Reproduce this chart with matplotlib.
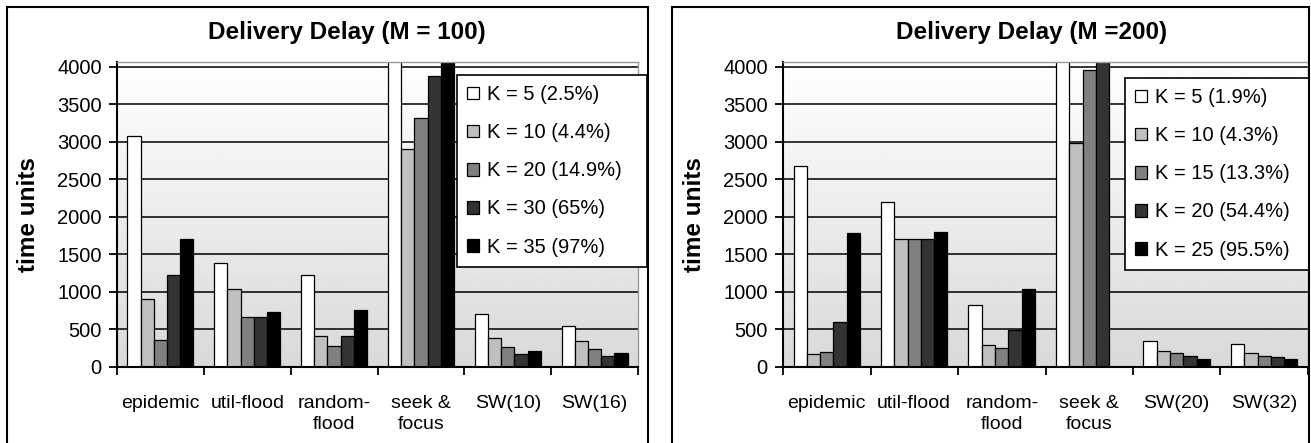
import numpy as np
import matplotlib.pyplot as plt
from matplotlib.patches import Rectangle

plt.rcParams['font.family'] = ['Liberation Sans', 'DejaVu Sans']

# categories on the x axis
cats_100 = ['epidemic', 'util-flood', 'random-\nflood', 'seek &\nfocus', 'SW(10)', 'SW(16)']
cats_200 = ['epidemic', 'util-flood', 'random-\nflood', 'seek &\nfocus', 'SW(20)', 'SW(32)']

# delivery delay (time units), one list per K, M = 100
k_labels_100 = ['K = 5 (2.5%)', 'K = 10 (4.4%)', 'K = 20 (14.9%)', 'K = 30 (65%)', 'K = 35 (97%)']
m100_k5 = [3080, 1390, 1230, 4800, 700, 540]
m100_k10 = [900, 1040, 410, 2900, 390, 340]
m100_k20 = [360, 670, 280, 3320, 260, 240]
m100_k30 = [1230, 670, 410, 3870, 170, 150]
m100_k35 = [1710, 730, 760, 4100, 210, 180]

# M = 200 (no K = 25 value for seek & focus)
k_labels_200 = ['K = 5 (1.9%)', 'K = 10 (4.3%)', 'K = 15 (13.3%)', 'K = 20 (54.4%)', 'K = 25 (95.5%)']
m200_k5 = [2680, 2200, 830, 4800, 350, 310]
m200_k10 = [170, 1700, 290, 2980, 210, 180]
m200_k15 = [200, 1700, 250, 3950, 180, 150]
m200_k20 = [600, 1700, 490, 4100, 150, 130]
m200_k25 = [1780, 1800, 1040, np.nan, 100, 100]

colors = ['#ffffff', '#c0c0c0', '#808080', '#333333', '#000000']
W, H = 1311, 443


def px(x0, y0, x1, y1):
    # pixel box -> figure fraction rect
    return [x0 / W, 1 - y1 / H, (x1 - x0) / W, (y1 - y0) / H]


def draw(ax, cats, series, labels, title, title_x, leg_box):
    n = len(cats)
    x = np.arange(n) + 0.5
    bw = 0.152
    # grey gradient behind the bars
    grad = np.linspace(0.85, 1.0, 256).reshape(-1, 1)
    ax.imshow(grad, extent=(0, 1, 0, 1), transform=ax.transAxes, aspect='auto',
              cmap='gray', vmin=0, vmax=1, origin='lower', zorder=0)
    bars = []
    for i, vals in enumerate(series):
        b = ax.bar(x + (i - 2) * bw, vals, bw, color=colors[i], edgecolor='black',
                   linewidth=0.9, zorder=2, label=labels[i])
        bars.append(b)
    ax.set_xlim(0, n)
    ax.set_ylim(0, 4060)
    ax.set_yticks(range(0, 4001, 500))
    ax.yaxis.grid(True, color='#111111', linewidth=1.2, zorder=1)
    ax.set_axisbelow(True)
    ax.set_xticks(x)
    ax.set_xticklabels(cats, fontsize=14, linespacing=1.3)
    ax.set_xticks(np.arange(n + 1), minor=True)
    ax.tick_params(axis='x', which='major', length=0, pad=20)
    ax.tick_params(axis='x', which='minor', length=6, width=1.3, direction='out')
    ax.tick_params(axis='y', length=6, width=1.3, pad=5, labelsize=14.5)
    for s in ['left', 'bottom']:
        ax.spines[s].set_linewidth(1.5)
    for s in ['top', 'right']:
        ax.spines[s].set_color('#9a9a9a')
        ax.spines[s].set_linewidth(1.0)
    ax.set_ylabel('time units', fontsize=17.5, fontweight='bold', labelpad=12)
    fig.text(title_x / W, 1 - 33 / H, title, fontsize=17.5, fontweight='bold',
             ha='center', va='center')
    x0, y0, x1, y1 = leg_box
    leg = ax.legend(handles=bars, loc='upper left', mode='expand',
                    bbox_to_anchor=((x0) / W, 1 - y1 / H, (x1 - x0) / W, (y1 - y0) / H),
                    bbox_transform=fig.transFigure, borderaxespad=0,
                    fontsize=14.5, frameon=True, fancybox=False, framealpha=1,
                    edgecolor='black', handlelength=0.6, handleheight=0.6,
                    handletextpad=0.4, labelspacing=0.95, borderpad=0.5)
    leg.get_frame().set_linewidth(1.2)
    leg.set_zorder(5)


fig = plt.figure(figsize=(W / 100, H / 100), dpi=100)

# outer frames of the two charts
fig.patches.append(Rectangle((7 / W, -0.05), (648 - 7) / W, 1.05 - 7 / H,
                             transform=fig.transFigure, fill=False,
                             edgecolor='black', linewidth=1.5))
fig.patches.append(Rectangle((672 / W, -0.05), (1309 - 672) / W, 1.05 - 7 / H,
                             transform=fig.transFigure, fill=False,
                             edgecolor='black', linewidth=1.5))

ax1 = fig.add_axes(px(117, 62, 638, 367))
draw(ax1, cats_100, [m100_k5, m100_k10, m100_k20, m100_k30, m100_k35],
     k_labels_100, 'Delivery Delay (M = 100)', 347, (457, 75, 647, 267))

ax2 = fig.add_axes(px(783, 62, 1308, 367))
draw(ax2, cats_200, [m200_k5, m200_k10, m200_k15, m200_k20, m200_k25],
     k_labels_200, 'Delivery Delay (M =200)', 1032, (1125, 78, 1309, 263))

fig.savefig('out.png', dpi=100)
